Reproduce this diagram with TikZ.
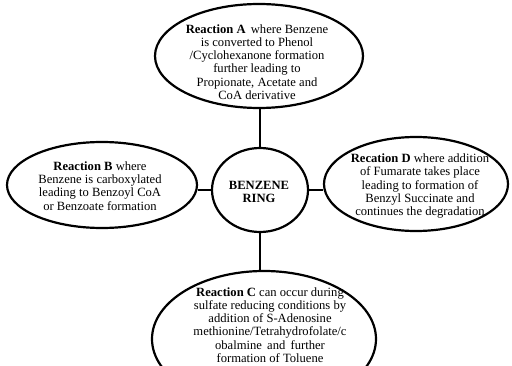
\documentclass[tikz,border=0pt]{standalone}
\usepackage{fontspec}
\setmainfont{Liberation Serif}
\usetikzlibrary{shapes.geometric}
\begin{document}
\begin{tikzpicture}[x=1pt,y=1pt,
  oval/.style={draw=black, line width=2.2pt, ellipse, inner sep=0pt},
  txt/.style={align=center, inner sep=0pt, font=\fontsize{12.6}{13.2}\selectfont},
  link/.style={draw=black, line width=2.2pt}]
\useasboundingbox (0,0) rectangle (512,365);
% ellipses (y = 365 - pixel row)
\node[oval, minimum width=208pt, minimum height=104pt] (A) at (259,309) {};
\node[oval, minimum width=96pt, minimum height=84pt] (R) at (260,175) {};
\node[oval, minimum width=190pt, minimum height=86pt] (B) at (102,180) {};
\node[oval, minimum width=184pt, minimum height=94pt] (D) at (416,181) {};
\node[oval, minimum width=224pt, minimum height=136pt] (C) at (264,26) {};
% texts
\node[txt] (tA) at (257,303) {\textbf{Reaction A}\, where Benzene\\is converted to Phenol\\/Cyclohexanone formation\\further leading to\\Propionate, Acetate and\\CoA derivative};
\node[txt] (tR) at (259,173) {\textbf{BENZENE}\\\textbf{RING}};
\node[txt] (tB) at (100,179) {\textbf{Reaction B} where\\Benzene is carboxylated\\leading to Benzoyl CoA\\or Benzoate formation};
\node[txt] (tD) at (420,179) {\textbf{Recation D} where addition\\of Fumarate takes place\\leading to formation of\\Benzyl Succinate and\\continues the degradation};
\node[txt] (tC) at (270,40) {\textbf{Reaction C} can occur during\\sulfate reducing conditions by\\addition of S-Adenosine\\methionine/Tetrahydrofolate/c\\obalmine\, and\, further\\formation of Toluene};
% connectors
\draw[link] (R.north) -- (R.north |- A.south);
\draw[link] (R.south) -- (R.south |- C.north);
\draw[link] (R.west) -- (R.west -| B.east);
\draw[link] (R.east) -- (R.east -| D.west);
\end{tikzpicture}
\end{document}
